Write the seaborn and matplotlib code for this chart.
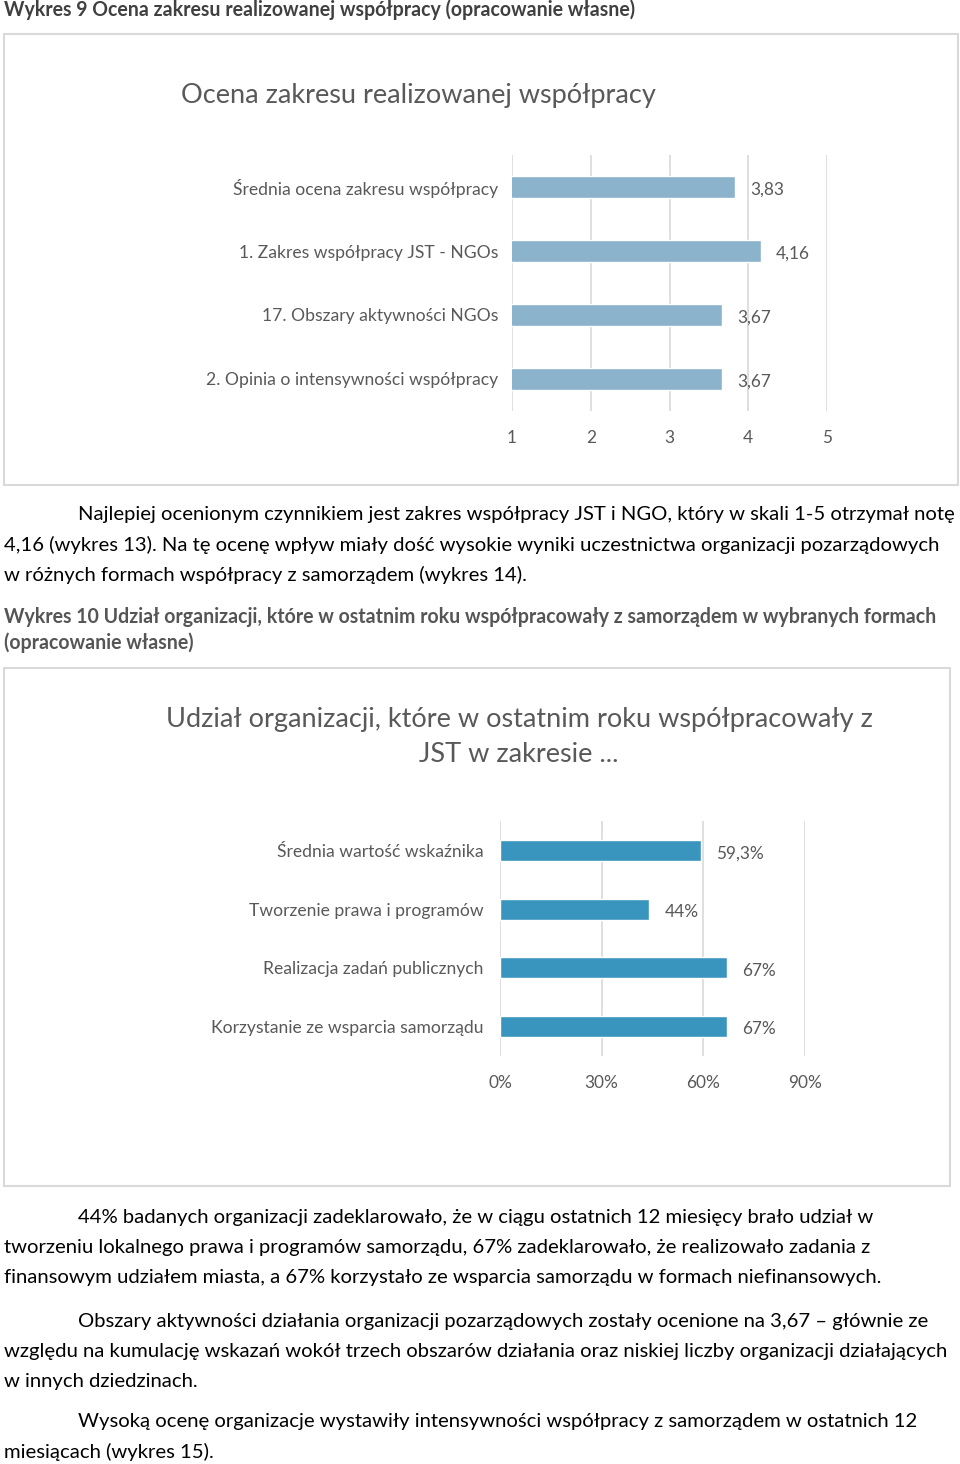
import matplotlib
matplotlib.use("Agg")
import matplotlib.pyplot as plt
import seaborn as sns
import pandas as pd
from matplotlib.patches import Rectangle

# ---------------- data ----------------
cat1 = ["Średnia ocena zakresu współpracy", "1. Zakres współpracy JST - NGOs",
        "17. Obszary aktywności NGOs", "2. Opinia o intensywności współpracy"]
val1 = [3.83, 4.16, 3.67, 3.67]
ticks1 = [1, 2, 3, 4, 5]

cat2 = ["Średnia wartość wskaźnika", "Tworzenie prawa i programów",
        "Realizacja zadań publicznych", "Korzystanie ze wsparcia samorządu"]
val2 = [59.3, 44, 67, 67]
ticks2 = [0, 30, 60, 90]

title1 = "Ocena zakresu realizowanej współpracy"
title2 = "Udział organizacji, które w ostatnim roku współpracowały z\nJST w zakresie ..."
caption1 = "Wykres 9 Ocena zakresu realizowanej współpracy (opracowanie własne)"
caption2 = ["Wykres 10 Udział organizacji, które w ostatnim roku współpracowały z samorządem w wybranych formach",
            "(opracowanie własne)"]
para1 = ["Najlepiej ocenionym czynnikiem jest zakres współpracy JST i NGO, który w skali 1-5 otrzymał notę",
         "4,16 (wykres 13). Na tę ocenę wpływ miały dość wysokie wyniki uczestnictwa organizacji pozarządowych",
         "w różnych formach współpracy z samorządem (wykres 14)."]
para2 = ["44% badanych organizacji zadeklarowało, że w ciągu ostatnich 12 miesięcy brało udział w",
         "tworzeniu lokalnego prawa i programów samorządu, 67% zadeklarowało, że realizowało zadania z",
         "finansowym udziałem miasta, a 67% korzystało ze wsparcia samorządu w formach niefinansowych."]
para3 = ["Obszary aktywności działania organizacji pozarządowych zostały ocenione na 3,67 – głównie ze",
         "względu na kumulację wskazań wokół trzech obszarów działania oraz niskiej liczby organizacji działających",
         "w innych dziedzinach."]
para4 = ["Wysoką ocenę organizacje wystawiły intensywności współpracy z samorządem w ostatnich 12",
         "miesiącach (wykres 15)."]

# ---------------- setup ----------------
sns.set_theme(style="white")
plt.rcParams['font.family'] = ['Lato', 'DejaVu Sans']
W, H = 960, 1464
fig = plt.figure(figsize=(W / 100, H / 100), dpi=100)
fig.patch.set_facecolor("white")


def fx(x):
    return x / W


def fy(y):
    return 1 - y / H


def ftext(x, y, s, size, color="black", weight="normal", ha="left"):
    fig.text(fx(x), fy(y), s, fontsize=size, color=color, fontweight=weight,
             ha=ha, va="center")


GRAY = "#595959"
GRID = "#d9d9d9"

# frames
for (x0, y0, x1, y1) in [(4, 34, 958, 485), (4, 668, 950, 1186)]:
    fig.add_artist(Rectangle((fx(x0), fy(y1)), fx(x1 - x0), (y1 - y0) / H,
                             transform=fig.transFigure, fill=False,
                             edgecolor=GRID, linewidth=1.5))

# captions & paragraphs
BODY = 14.6
CAP = 14.05
ftext(4, 10, caption1, CAP, color="#404040", weight="bold")
ftext(4, 617, caption2[0], CAP, color="#555555", weight="bold")
ftext(4, 643, caption2[1], CAP, color="#555555", weight="bold")

def para(lines, y0):
    for i, s in enumerate(lines):
        ftext(78 if i == 0 else 4, y0 + 30 * i, s, BODY)

para(para1, 515)
para(para2, 1218)
para(para3, 1321)
para(para4, 1422)

# chart titles
fig.text(fx(418), fy(95), title1, fontsize=19.5, color=GRAY, ha="center",
         va="center")
fig.text(fx(519), fy(737), title2, fontsize=19.5, color=GRAY, ha="center",
         va="center", linespacing=1.45)


def chart(rect, cats, vals, ticks, xlim, color, width, labels, ticklabels, ypad):
    ax = fig.add_axes(rect)
    df = pd.DataFrame({"cat": cats, "val": vals})
    sns.barplot(data=df, x="val", y="cat", ax=ax, color=color, width=width,
                orient="h", saturation=1)
    ax.set_xlim(*xlim)
    ax.set_ylim(len(cats) - 0.5, -0.5)
    ax.set_xticks(ticks)
    ax.set_xticklabels(ticklabels)
    ax.set_xlabel("")
    ax.set_ylabel("")
    for s in ax.spines.values():
        s.set_visible(False)
    ax.grid(False)
    for t in ticks:
        ax.axvline(t, color=GRID, linewidth=1.2, zorder=0)
    ax.tick_params(axis="x", length=0, pad=14, labelsize=12.4, labelcolor=GRAY)
    ax.tick_params(axis="y", length=0, pad=ypad, labelsize=12.6, labelcolor=GRAY)
    texts = ax.bar_label(ax.containers[0], labels=labels, padding=11,
                         fontsize=12.4, color=GRAY)
    for t in texts:
        t.set_va("center")
        t.xyann = (11, -2)
    return ax


chart([fx(512), fy(411), fx(827 - 512), 256 / H], cat1, val1, ticks1, (1, 5),
      "#8bb4cc", 0.34, [f"{v:.2f}".replace(".", ",") for v in val1],
      [str(t) for t in ticks1], 10)

lab2 = [(f"{v:.1f}" if v % 1 else f"{v:.0f}").replace(".", ",") + "%" for v in val2]
chart([fx(500), fy(1056), fx(805 - 500), 235 / H], cat2, val2, ticks2, (0, 90),
      "#3a95be", 0.36, lab2, [f"{t}%" for t in ticks2], 12)

fig.savefig("out.png", dpi=100, facecolor="white")
